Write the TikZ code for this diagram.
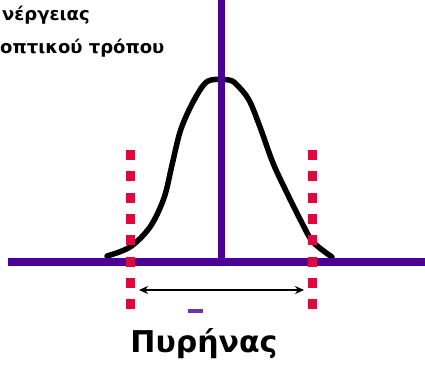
\documentclass[tikz,border=0pt]{standalone}
\usepackage{fontspec}
\setmainfont{DejaVu Sans}
\usetikzlibrary{arrows.meta}
\definecolor{axispurple}{RGB}{75,0,150}
\definecolor{dotred}{RGB}{220,10,60}
\tikzset{
  curveline/.style={line width=5.5pt, black, line cap=round, line join=round},
  axisline/.style={line width=8pt, axispurple},
  reddots/.style={line width=9pt, dotred, dash pattern=on 10pt off 11.3pt},
  widtharrow/.style={line width=1.8pt, black, {Stealth[length=9pt,width=8pt]}-{Stealth[length=9pt,width=8pt]}},
  toptext/.style={anchor=base west, inner sep=0pt, font=\fontsize{18}{22}\selectfont\bfseries},
  bigtext/.style={anchor=base, inner sep=0pt, font=\fontsize{30}{34}\selectfont\bfseries}
}
\begin{document}
\begin{tikzpicture}[x=1pt,y=-1pt]
\useasboundingbox[fill=white] (0,0) rectangle (425,367);
% bell curve
\draw[curveline] plot[smooth, tension=0.55] coordinates {
  (107,256) (130,247) (150,227) (164,198) (172,165) (180,132) (190,108)
  (202,87) (211,80) (229,80) (237,85) (249,100) (260,127) (273,163)
  (287,193) (302,223) (313,242) (332,257)};
% axes
\coordinate (hL) at (8,262);
\coordinate (hR) at (425,262);
\coordinate (vT) at (221,0);
\coordinate (vB) at (221,262);
\draw[axisline] (hL) -- (hR);
\draw[axisline, line width=7pt] (vT) -- (vB);
% red dotted limits
\coordinate (lT) at (130,150);
\coordinate (lB) at (130,312);
\coordinate (rT) at (312,150);
\coordinate (rB) at (312,312);
\draw[reddots] (lT) -- (lB);
\draw[reddots] (rT) -- (rB);
% width arrow
\coordinate (aL) at (139,290);
\coordinate (aR) at (304,290);
\draw[widtharrow] (aL) -- (aR);
% small purple remnant
\fill[axispurple!80] (188,309) rectangle (203,313);
% texts
\node[toptext] (t1) at (2,20) {νέργειας};
\node[toptext] (t2) at (0,53) {οπτικού τρόπου};
\node[bigtext] (core) at (204,352) {Πυρήνας};
\end{tikzpicture}
\end{document}
